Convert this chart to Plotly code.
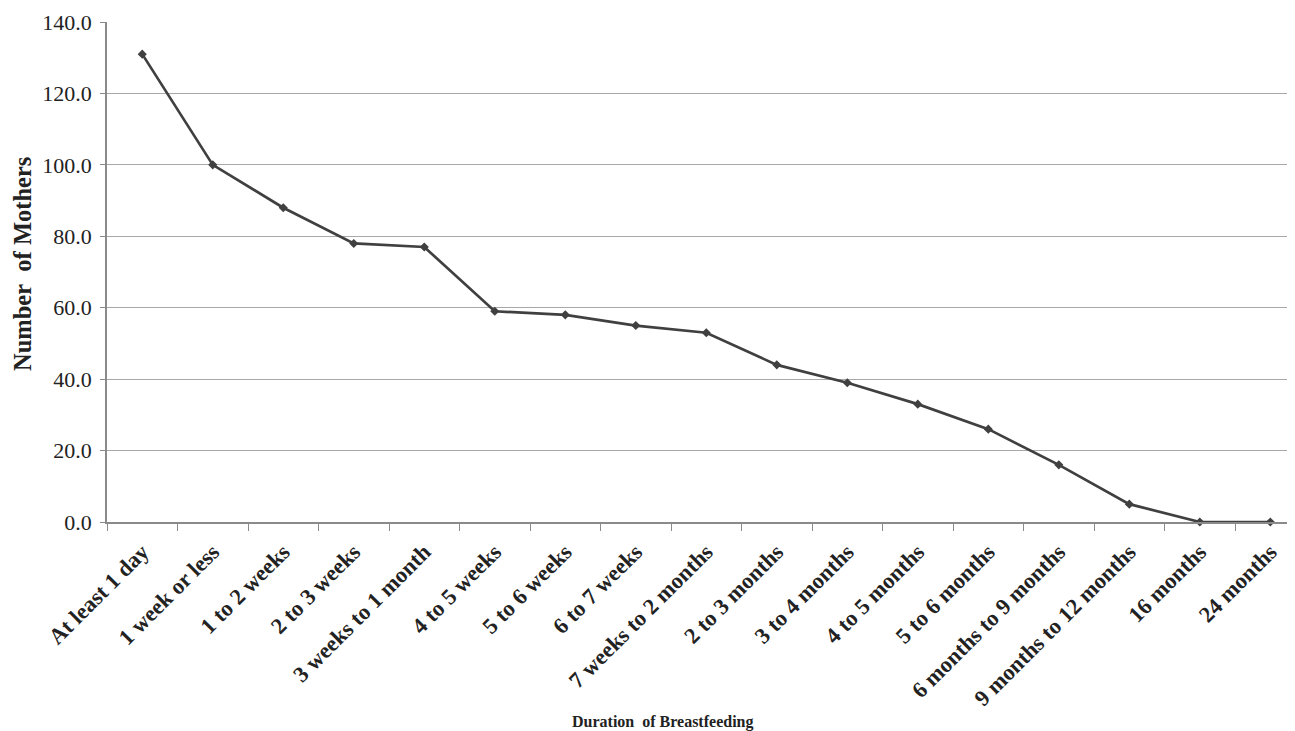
import plotly.graph_objects as go

categories = ["At least 1 day", "1 week or less", "1 to 2 weeks", "2 to 3 weeks",
              "3 weeks to 1 month", "4 to 5 weeks", "5 to 6 weeks", "6 to 7 weeks",
              "7 weeks to 2 months", "2 to 3 months", "3 to 4 months", "4 to 5 months",
              "5 to 6 months", "6 months to 9 months", "9 months to 12 months",
              "16 months", "24 months"]
mothers = [131, 100, 88, 78, 77, 59, 58, 55, 53, 44, 39, 33, 26, 16, 5, 0, 0]

serif = "Liberation Serif, Times New Roman, serif"

W, H = 1287, 723
L, T = 99, 14
PH = 500
B = H - T - PH
PW = W - L

fig = go.Figure()
fig.add_trace(go.Scatter(
    x=categories, y=mothers, mode="lines+markers",
    line=dict(color="#404040", width=2.7),
    marker=dict(symbol="diamond", size=7, color="#404040"),
    cliponaxis=False,
))

fig.update_layout(
    width=W, height=H,
    margin=dict(l=L, r=0, t=T, b=B),
    plot_bgcolor="white", paper_bgcolor="white",
    showlegend=False,
    font=dict(family=serif, color="#222222"),
    xaxis=dict(
        type="category", range=[-0.5, 16.35],
        tickangle=-45, tickson="boundaries",
        ticks="outside", ticklen=7, tickcolor="#8a8a8a",
        ticklabelstandoff=6,
        tickfont=dict(family=serif, size=22.5, color="#222222", weight="bold"),
        showline=True, linecolor="#8a8a8a", linewidth=1.5,
        showgrid=False, automargin=False,
    ),
    yaxis=dict(
        range=[0, 140], dtick=20, tickformat=".1f",
        ticks="outside", ticklen=5, tickcolor="#8a8a8a",
        ticklabelstandoff=4,
        tickfont=dict(family=serif, size=22, color="#222222"),
        showline=True, linecolor="#8a8a8a", linewidth=1.5,
        showgrid=True, gridcolor="#a8a8a8", gridwidth=1.3,
        zeroline=False, automargin=False,
    ),
    annotations=[
        dict(text="<b>Duration\u00a0 of Breastfeeding</b>", xref="paper", yref="paper",
             x=(654 - L) / PW, y=-(714 - (T + PH)) / PH, showarrow=False,
             font=dict(family=serif, size=16, color="#222222"),
             xanchor="center", yanchor="middle"),
        dict(text="<b>Number\u00a0 of Mothers</b>", xref="paper", yref="paper",
             x=-(L - 14) / PW, y=(T + PH - 256) / PH, showarrow=False, textangle=-90,
             font=dict(family=serif, size=24.5, color="#222222"),
             xanchor="center", yanchor="middle"),
    ],
)

fig.write_html("out.html")
